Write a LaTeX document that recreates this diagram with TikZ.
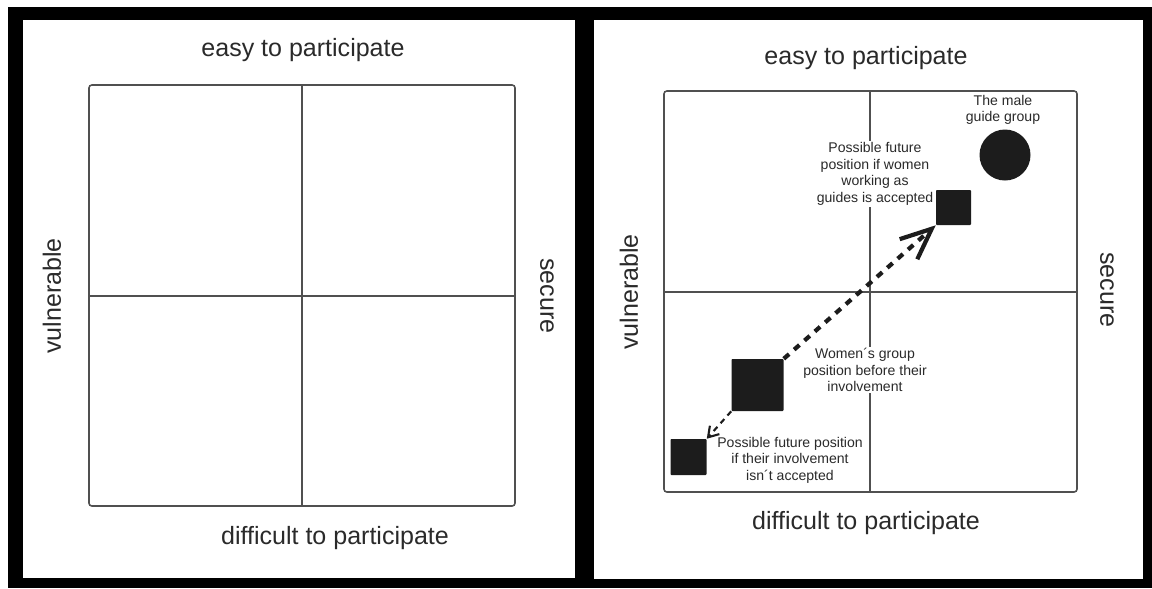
\documentclass[tikz,border=0pt]{standalone}
\usepackage{fontspec}
\setmainfont{Liberation Sans}
\usepackage{xcolor}
\usepackage{tikz}
\definecolor{quadFrame}{HTML}{000000}
\definecolor{quadLine}{HTML}{505050}
\definecolor{quadText}{HTML}{2A2A2A}
\definecolor{quadMark}{HTML}{1C1C1C}
\usetikzlibrary{arrows.meta,positioning}

\begin{document}
\begin{tikzpicture}[
  x=0.025cm, y=-0.025cm,
  axislabel/.style={font=\fontsize{17.8}{20}\selectfont, text=quadText, inner sep=0pt},
  quadbox/.style={draw=quadLine, line width=1.1pt, rounded corners=2pt},
  quadaxis/.style={draw=quadLine, line width=0.9pt},
  marker/.style={fill=quadMark, draw=none, rounded corners=0.6pt, inner sep=0pt},
  note/.style={font=\fontsize{10}{11.8}\selectfont, text=quadText, fill=white, align=center, inner sep=1pt},
  moveup/.style={-{Straight Barb[length=22pt,width=19pt]}, line width=3pt, dash pattern=on 5pt off 4.8pt, quadMark},
  movedown/.style={-{Straight Barb[length=7pt,width=9pt]}, line width=1.5pt, dash pattern=on 4pt off 3.4pt, quadMark}
]
\useasboundingbox (0,0) rectangle (1152,588);

% Panels
\fill[quadFrame] (8,7) rectangle (1152,588);
\fill[white] (23,20) rectangle (575,578);
\fill[white] (594,20) rectangle (1143,579);

% Left panel
\draw[quadbox] (89,85) rectangle (515,506);
\draw[quadaxis] (302,85) -- (302,506);
\draw[quadaxis] (89,296) -- (515,296);
\node[axislabel] (easyL) at (303,50) {easy to participate};
\node[axislabel] (diffL) at (335,538) {difficult to participate};
\node[axislabel, rotate=90] (vulnL) at (52,296) {vulnerable};
\node[axislabel, rotate=-90] (secL) at (547,296) {secure};

% Right panel
\draw[quadbox] (664,91) rectangle (1077,492);
\draw[quadaxis] (870,91) -- (870,492);
\draw[quadaxis] (664,292) -- (1077,292);
\node[axislabel] (easyR) at (866,58) {easy to participate};
\node[axislabel] (diffR) at (866,523) {difficult to participate};
\node[axislabel, rotate=90] (vulnR) at (629,292) {vulnerable};
\node[axislabel, rotate=-90] (secR) at (1107,290) {secure};

% Positions
\node[marker, circle, minimum size=51*0.025cm] (male) at (1005,155) {};
\node[marker, minimum size=35*0.025cm] (accepted) at (953.5,207.5) {};
\node[marker, minimum size=52*0.025cm] (before) at (757.5,385) {};
\node[marker, minimum size=36*0.025cm] (rejected) at (688.5,457) {};

\node[note, fill=none] (maleText) at (1003,110) {The male\\guide group};
\node[note] (acceptedText) at (875,174) {Possible future\\position if women\\working as\\guides is accepted};
\node[note] (beforeText) at (865,370) {Women´s group\\position before their\\involvement};
\node[note, fill=none] (rejectedText) at (790,460) {Possible future position\\if their involvement\\isn´t accepted};

% Moves
\draw[moveup] (before.north east) -- (accepted.south west);
\draw[movedown] (before.south west) -- (rejected.north east);

\end{tikzpicture}
\end{document}
